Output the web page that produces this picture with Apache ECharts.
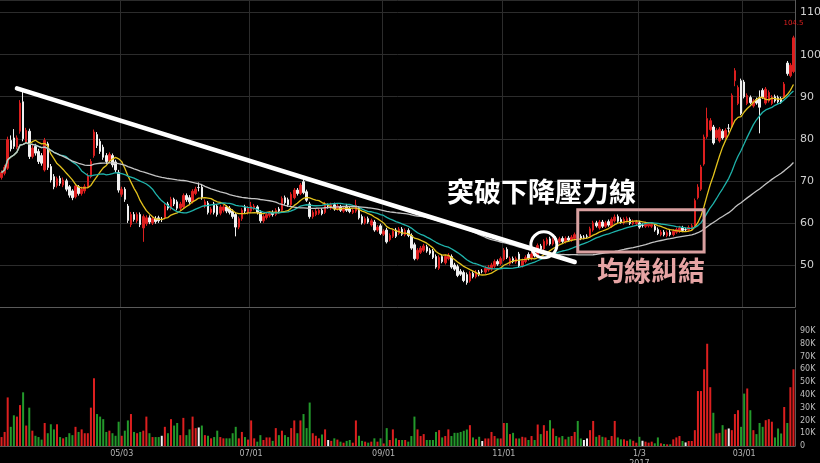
<!DOCTYPE html>
<html><head><meta charset="utf-8">
<script src="https://cdn.jsdelivr.net/npm/echarts@6/dist/echarts.min.js"></script>
<style>html,body{margin:0;padding:0;background:#000;}#c{width:820px;height:463px;}</style>
</head><body><div id="c"></div>
<script>
const openP = [
70.8,71.8,73.0,79.6,80.2,78.0,81.8,88.8,79.2,81.8,
75.8,78.2,77.0,76.0,72.6,78.8,73.4,71.0,68.9,70.6,
69.0,70.0,68.6,67.6,66.2,68.6,67.0,67.6,68.6,71.0,
76.0,81.0,79.4,78.0,76.0,74.8,76.0,74.5,72.0,66.8,
68.0,64.0,59.6,62.0,60.5,62.0,58.8,59.8,61.2,60.0,
61.0,61.2,60.8,61.2,64.5,63.5,65.6,65.0,63.5,63.8,
66.5,66.0,65.0,67.0,68.4,68.5,64.0,64.7,62.5,64.5,
64.0,62.3,63.0,63.8,63.5,62.8,62.0,59.0,61.0,63.8,
62.5,62.8,63.5,63.8,62.5,60.5,61.3,61.8,62.5,62.0,
63.3,63.0,66.0,65.5,64.3,66.0,67.8,67.0,69.8,67.4,
64.5,61.5,62.0,62.3,63.0,62.5,64.0,63.5,64.3,63.3,
63.8,62.8,64.0,63.3,62.5,62.8,63.5,61.5,60.0,61.0,
59.5,60.2,58.3,59.3,57.3,58.3,56.0,56.8,58.3,57.5,
58.5,57.2,58.2,57.0,54.8,51.5,53.0,53.5,54.3,53.5,
53.3,52.0,49.2,52.0,50.5,51.5,52.0,50.0,49.6,48.5,
48.2,47.7,46.2,48.0,47.2,48.3,48.5,48.3,48.8,49.0,
49.7,50.8,50.3,51.3,53.7,50.3,51.5,50.7,52.6,49.8,
50.8,52.5,51.5,52.8,52.3,54.5,53.8,55.0,56.2,55.0,
56.3,55.5,56.3,55.5,56.4,55.9,56.3,57.5,56.8,56.6,
56.8,56.8,58.3,60.0,58.8,60.2,59.2,60.3,59.2,60.5,
61.5,60.8,60.0,60.5,60.8,59.8,59.8,60.0,59.4,59.2,
59.3,59.2,59.2,58.4,57.2,57.8,57.0,57.8,57.2,57.8,
58.0,58.8,58.4,58.3,58.6,59.2,66.0,68.0,74.0,80.5,
82.2,82.8,80.3,79.5,81.8,80.4,82.5,82.8,93.8,88.4,
93.8,93.5,88.4,89.8,87.8,89.3,89.5,91.5,88.5,89.0,
88.4,90.0,89.8,89.5,89.9,98.0,95.0,96.0];
const closeP = [
72.0,73.2,79.8,77.6,78.2,80.2,88.5,80.0,82.0,75.8,
77.8,76.6,74.6,74.2,79.6,73.2,70.2,68.6,70.5,69.4,
70.2,68.0,66.6,66.0,68.8,67.0,68.0,68.6,71.2,74.6,
81.6,78.4,77.0,75.6,74.6,76.3,73.8,72.6,67.8,68.0,
65.6,60.6,62.0,60.8,62.0,59.6,61.5,61.2,60.2,61.0,
60.3,60.5,60.8,64.0,63.5,65.6,64.5,63.5,64.5,66.5,
65.5,65.0,67.5,68.0,68.4,66.0,65.0,62.5,63.3,62.5,
62.0,63.8,63.8,62.8,62.5,61.5,59.0,61.0,63.0,62.8,
63.5,64.0,64.0,62.5,60.5,61.5,62.0,62.3,62.0,63.0,
62.8,65.8,64.8,64.3,66.8,67.8,67.0,69.0,67.2,65.4,
61.5,62.5,62.8,63.0,62.2,64.5,64.0,64.3,63.3,64.0,
63.0,63.5,63.0,62.7,63.0,64.2,61.2,60.0,61.0,60.2,
60.5,58.3,59.0,57.5,58.0,55.5,57.0,58.0,56.8,58.5,
57.3,58.2,57.0,54.0,51.5,53.5,54.0,54.5,53.3,52.8,
51.8,49.5,51.8,50.8,52.0,52.3,49.5,49.0,47.5,47.8,
46.3,45.8,48.0,47.2,48.3,47.7,48.5,49.2,49.5,50.0,
50.8,50.2,51.5,53.5,51.8,51.5,50.8,51.5,49.8,51.0,
51.8,51.5,52.6,52.2,54.6,53.8,55.6,56.0,55.0,56.0,
55.5,56.2,55.6,56.3,55.9,56.6,57.2,56.5,56.3,56.6,
56.8,58.6,60.0,59.3,60.2,59.2,60.0,59.5,60.8,61.4,
60.4,60.2,60.8,61.0,59.9,60.3,60.2,59.0,59.4,59.8,
59.7,59.6,58.3,57.5,57.8,57.2,57.7,57.2,58.0,58.4,
58.8,58.2,58.4,58.9,59.3,65.3,68.5,73.3,80.4,84.8,
84.3,79.0,82.0,82.3,80.2,82.0,82.5,90.3,96.2,92.2,
86.0,90.0,90.3,88.6,89.0,88.5,87.5,89.9,91.8,91.0,
89.9,89.0,88.8,88.7,93.0,95.5,97.5,104.0];
const highP = [
72.5,73.8,80.5,80.8,82.3,80.8,89.2,91.3,82.6,82.4,
78.6,78.8,77.6,76.6,80.2,79.3,74.0,71.6,71.0,71.2,
70.8,70.5,69.0,68.0,69.3,69.0,68.6,69.2,71.8,75.2,
82.2,81.6,80.0,78.6,76.6,76.8,76.5,75.0,72.6,68.6,
68.5,64.5,62.6,62.6,62.5,62.5,62.0,61.8,61.8,61.5,
61.6,61.7,61.4,64.6,65.0,66.2,66.0,65.5,65.0,67.0,
67.0,66.6,68.0,68.6,69.6,69.0,65.6,65.2,63.8,65.0,
64.5,64.3,64.3,64.2,64.0,63.2,62.5,61.5,63.5,64.3,
64.0,65.0,64.5,64.2,63.0,62.0,62.5,62.8,63.0,63.5,
63.8,66.3,66.5,66.0,67.3,68.3,68.3,69.5,70.5,67.9,
65.0,63.0,63.3,63.5,63.5,65.0,64.6,64.8,64.8,64.5,
64.3,64.0,64.5,63.8,63.5,65.5,64.0,62.0,61.5,61.5,
61.0,60.7,59.5,59.8,58.5,58.8,57.5,58.5,58.8,59.0,
59.0,58.7,58.7,57.5,55.3,54.0,54.5,55.0,54.8,54.0,
53.8,52.5,52.3,52.5,52.5,52.8,52.5,50.5,50.1,49.0,
48.7,48.2,48.5,48.5,48.8,48.8,49.0,49.7,50.0,50.5,
51.3,51.3,52.0,54.0,54.2,52.0,52.0,52.0,53.1,51.5,
52.3,53.0,53.1,53.3,55.1,55.0,56.1,56.5,56.7,56.5,
56.8,56.7,56.8,56.8,56.9,57.1,57.7,58.0,57.3,57.1,
57.3,59.1,60.5,60.5,60.7,60.7,60.5,60.8,61.3,62.0,
62.0,61.3,61.3,61.5,61.3,60.8,60.7,60.5,59.9,60.3,
60.2,60.1,59.7,58.9,58.3,58.3,58.2,58.3,58.5,58.9,
59.3,59.3,58.9,59.4,59.8,65.8,69.2,73.8,81.0,87.4,
84.9,83.3,82.5,82.8,82.3,82.5,83.5,90.8,96.8,92.7,
94.3,94.0,90.8,90.3,89.5,89.8,91.5,92.0,92.3,91.5,
90.4,90.5,90.3,90.0,93.5,98.5,98.0,104.5];
const lowP = [
70.3,71.3,72.6,77.0,77.6,77.5,81.2,79.4,78.8,75.2,
75.3,76.0,74.0,73.6,72.2,72.6,69.6,68.0,68.4,68.8,
68.5,67.5,66.0,65.4,65.8,66.5,66.5,67.0,68.2,70.6,
75.5,77.8,76.4,75.0,74.0,74.3,73.2,72.0,67.2,66.2,
65.0,60.0,59.0,60.3,60.0,59.0,55.5,59.3,59.7,59.5,
59.8,60.0,60.2,60.8,63.0,63.0,64.0,63.0,63.0,63.4,
65.0,64.5,64.6,66.6,67.5,65.5,63.5,62.0,62.0,62.0,
61.5,61.8,62.5,62.3,62.0,61.0,56.8,58.5,60.5,62.3,
62.0,62.3,63.0,62.0,60.0,60.0,60.8,61.3,61.5,61.6,
62.3,62.6,64.3,63.8,63.8,65.6,66.5,66.6,66.8,65.0,
61.0,61.0,61.6,61.9,61.8,62.1,63.4,63.1,62.9,62.9,
62.6,62.4,62.6,62.3,62.1,62.4,60.8,59.6,59.6,59.8,
59.1,57.9,57.9,57.1,56.9,55.1,55.6,56.4,56.4,57.1,
56.9,56.8,56.6,53.6,51.1,51.1,52.6,53.1,52.9,52.4,
51.4,49.1,48.8,50.4,50.1,51.1,49.1,48.6,47.1,47.4,
45.9,45.3,45.8,46.8,46.8,47.3,48.0,47.9,48.4,48.6,
49.3,49.8,49.9,50.9,51.4,49.9,50.4,50.3,49.4,49.4,
50.4,51.1,51.1,51.8,51.9,53.4,53.4,54.6,54.6,54.6,
55.1,55.1,55.2,55.1,55.5,55.5,55.9,56.1,55.9,56.1,
56.3,56.4,57.9,58.9,58.4,58.8,58.8,59.1,58.8,60.1,
60.0,59.8,59.6,60.1,59.5,59.4,59.4,58.6,58.9,58.8,
58.9,58.8,57.9,57.1,56.8,56.8,56.6,56.8,56.8,57.4,
57.6,57.8,57.9,57.9,58.2,58.8,65.6,67.6,73.6,80.0,
81.8,78.6,79.9,79.1,79.8,80.0,81.5,82.4,92.5,88.0,
85.6,89.6,88.0,88.2,87.4,88.1,81.3,89.5,88.1,88.6,
88.0,88.6,88.4,88.3,89.5,95.0,94.6,95.6];
const volumeK = [
7,11,38,15,24,23,32,42,16,30,
12,8,7,5,18,10,17,13,17,7,
6,7,10,8.5,15,11,13,10,10,30,
53,25,23,21,11,12,10,8,19,8,
12,20,25,11,10,11,12,23,10,7,
7,7,8,15,10,21,16,18,8.5,22,
8.5,13,23,14,14.5,16,8.5,8,6,7,
12,7,6,6,6,10,15,6,11,7,
5,20,6,3.4,8.5,4.7,6.7,6.7,4,14,
8.5,12,8.5,7,14,20,10,20,25,14,
34,10,8,6,9,13,4.7,4,6,5,
3.4,2.6,4,4.7,2.6,20,8,4,3.4,2.6,
3.4,6,3.4,6,2,14,4.7,13,6,4.7,
4.7,4.7,3.4,7.8,23,13,7.8,9.3,4.7,4.7,
4.7,11,12.4,6.7,7.8,13,7.8,10.3,10.3,11,
11.9,12.9,16.3,6.7,5.2,7.2,3.9,5.9,5.9,11,
7.8,5.9,5.9,18,18,9.3,10.3,5.9,5.9,7.2,
6.7,4.7,7.8,4.7,16.8,9.3,16.3,11.9,20.2,13.7,
7.8,6.7,7.8,5.2,7.2,7.8,11,19.6,5.9,4.7,
5.9,12.4,19.6,7.2,8.5,7.2,6.7,4.7,7.8,19.6,
6.7,5.2,5.2,4.1,5.2,4.1,2.6,7.2,4.1,3.4,
2.6,3.4,2.1,6.7,2.1,1.6,1.3,1.3,5.2,6.7,
7.8,3.9,2.8,3.9,3.9,12.4,43,43,60,80,
46,26,9.8,10.3,16.3,12.9,13.7,12.4,25,28,
15,41,45,28,12.4,9.3,18,15,20.2,21,
19,6.7,13.7,9.8,30.5,18,46,60];
const tickIndex = [39, 81, 124, 163, 207, 241];
const tickLabels = ['05/03', '07/01', '09/01', '11/01', '1/3\n2017', '03/01'];
const maPeriods = [10, 20, 60];
const maColors = ['#e3c21c', '#1fb3ab', '#c4c4c4'];

const categories = openP.map((_, i) => String(i));
const RED = '#dc1f1f', GREEN = '#23992b', WHITE = '#f0f0f0';
const candles = openP.map((o, i) => [o, closeP[i], lowP[i], highP[i]]);
function movingAvg(n) {
  return closeP.map((_, i) => {
    const s = Math.max(0, i - n + 1);
    let sum = 0;
    for (let k = s; k <= i; k++) sum += closeP[k];
    return +(sum / (i - s + 1)).toFixed(3);
  });
}
const volData = volumeK.map((v, i) => ({
  value: v,
  itemStyle: { color: closeP[i] > openP[i] ? RED : (closeP[i] < openP[i] ? GREEN : WHITE) }
}));
const tickSet = new Set(tickIndex);
const tickMap = {};
tickIndex.forEach((t, k) => tickMap[t] = tickLabels[k]);

const chart = echarts.init(document.getElementById('c'), null, { renderer: 'canvas' });
const option = {
  backgroundColor: '#000',
  animation: false,
  grid: [
    { left: 0, right: 25, top: 0, height: 307, containLabel: false, outerBoundsMode: 'none' },
    { left: 0, right: 25, top: 310, height: 136, containLabel: false, outerBoundsMode: 'none' }
  ],
  xAxis: [
    { type: 'category', gridIndex: 0, data: categories, boundaryGap: true,
      axisLine: { show: true, lineStyle: { color: '#5a5a5a' } }, axisTick: { show: false },
      axisLabel: { show: false },
      splitLine: { show: true, interval: (i) => tickSet.has(i), lineStyle: { color: '#2c2c2c' } } },
    { type: 'category', gridIndex: 1, data: categories, boundaryGap: true,
      axisLine: { show: true, lineStyle: { color: '#5a5a5a' } }, axisTick: { show: false },
      axisLabel: { show: true, interval: (i) => tickSet.has(i), formatter: (v, i) => tickMap[i] || '',
        color: '#b5b5b5', fontSize: 8, lineHeight: 10, margin: 3, fontFamily: 'DejaVu Sans' },
      splitLine: { show: true, interval: (i) => tickSet.has(i), lineStyle: { color: '#2c2c2c' } } }
  ],
  yAxis: [
    { type: 'value', gridIndex: 0, position: 'right', min: 40, max: 113, interval: 10,
      axisLine: { show: true, lineStyle: { color: '#5a5a5a' } }, axisTick: { show: false },
      axisLabel: { color: '#cfcfcf', fontSize: 11, margin: 5, fontFamily: 'DejaVu Sans',
        hideOverlap: false,
        formatter: (v) => (v % 10 === 0 && v > 40) ? String(v) : '' },
      splitLine: { show: true, lineStyle: { color: '#2c2c2c' } } },
    { type: 'value', gridIndex: 1, position: 'right', min: 0, max: 106.4, interval: 10,
      axisLine: { show: true, lineStyle: { color: '#5a5a5a' } }, axisTick: { show: false },
      axisLabel: { color: '#bdbdbd', fontSize: 8, margin: 5, fontFamily: 'DejaVu Sans',
        formatter: (v) => v === 0 ? '0' : ((v % 10 === 0 && v <= 90) ? v + 'K' : '') },
      splitLine: { show: false } }
  ],
  series: [
    { type: 'candlestick', xAxisIndex: 0, yAxisIndex: 0, data: candles, barWidth: 2,
      itemStyle: { color: RED, color0: WHITE, borderColor: RED, borderColor0: WHITE,
        borderColorDoji: WHITE, borderWidth: 1 } },
    ...maPeriods.map((n, k) => ({
      type: 'line', xAxisIndex: 0, yAxisIndex: 0, data: movingAvg(n), symbol: 'none',
      lineStyle: { color: maColors[k], width: 1.3 }, z: 3
    })),
    { type: 'bar', xAxisIndex: 1, yAxisIndex: 1, data: volData, barWidth: 2 }
  ]
};
chart.setOption(option);

const P = (i, v) => chart.convertToPixel({ gridIndex: 0 }, [i, v]);
const lastI = highP.length - 1;
const a = P(5, 92.0), b = P(186, 50.7);
const cc = P(176, 54.8);
const r1 = P(187, 63.1), r2 = P(228, 53.1);
const hp = P(lastI, highP[lastI]);
chart.setOption({
  graphic: [
    { type: 'line', shape: { x1: a[0], y1: a[1], x2: b[0], y2: b[1] },
      style: { stroke: '#ffffff', lineWidth: 4.5, lineCap: 'round' }, z: 100 },
    { type: 'circle', shape: { cx: cc[0], cy: cc[1], r: 13 },
      style: { fill: 'none', stroke: '#ffffff', lineWidth: 3 }, z: 100 },
    { type: 'rect', shape: { x: r1[0], y: r1[1], width: r2[0] - r1[0], height: r2[1] - r1[1] },
      style: { fill: 'none', stroke: '#d9a0a0', lineWidth: 3 }, z: 100 },
    { type: 'text', x: 447, y: 192, z: 101,
      style: { text: '突破下降壓力線', fill: '#ffffff', font: 'bold 27px "Noto Sans CJK TC"',
        textAlign: 'left', align: 'left', textVerticalAlign: 'middle', verticalAlign: 'middle' } },
    { type: 'text', x: 597, y: 271, z: 101,
      style: { text: '均線糾結', fill: '#e6a4a4', font: 'bold 27px "Noto Sans CJK TC"',
        textAlign: 'left', align: 'left', textVerticalAlign: 'middle', verticalAlign: 'middle' } },
    { type: 'text', x: hp[0], y: hp[1] - 13, z: 101,
      style: { text: String(highP[lastI]), fill: '#e02020', font: '7px "DejaVu Sans"',
        textAlign: 'center', align: 'center', textVerticalAlign: 'middle', verticalAlign: 'middle' } }
  ]
});
</script></body></html>
